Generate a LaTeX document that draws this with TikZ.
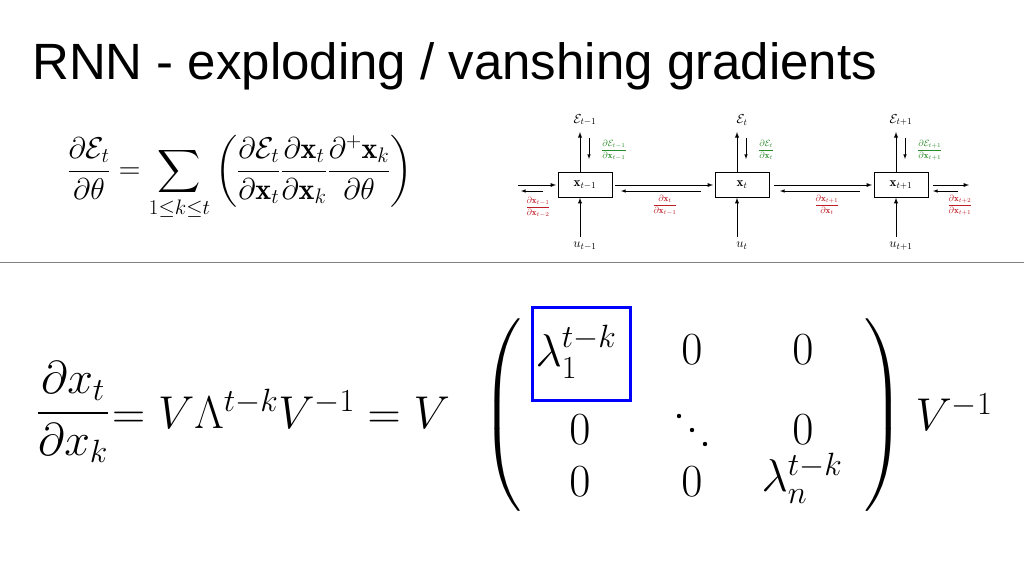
\RequirePackage{fix-cm}
\documentclass[tikz,border=0pt]{standalone}
\usepackage{amsmath,amssymb}
\usepackage{fontspec}
\newfontfamily\titlefont{Liberation Sans}
\definecolor{gr}{RGB}{40,140,40}
\definecolor{rd}{RGB}{190,30,40}
\begin{document}
\begin{tikzpicture}[x=1pt,y=-1pt,
  cell/.style={draw,line width=0.6pt,minimum width=54pt,minimum height=25pt,inner sep=0pt,font=\fontsize{13}{15}\selectfont},
  arr/.style={-latex,line width=0.9pt},
  sm/.style={font=\fontsize{13}{15}\selectfont,inner sep=0pt},
  gl/.style={text=gr,font=\fontsize{9}{10}\selectfont,inner sep=0pt},
  rl/.style={text=rd,font=\fontsize{9}{10}\selectfont,inner sep=0pt},
  big/.style={font=\fontsize{46}{50}\selectfont,inner sep=0pt}]
\useasboundingbox (0,0) rectangle (1024,576);
\node[anchor=west,font=\titlefont\fontsize{51}{56}\selectfont,inner sep=0pt] (title) at (32,66) {RNN - exploding / vanshing gradients};
\node[font=\fontsize{30}{34}\selectfont,inner sep=0pt] (eq1) at (240,178) {$\dfrac{\partial\mathcal{E}_t}{\partial\theta}=\displaystyle\sum_{1\le k\le t}\left(\frac{\partial\mathcal{E}_t}{\partial\mathbf{x}_t}\frac{\partial\mathbf{x}_t}{\partial\mathbf{x}_k}\frac{\partial^+\mathbf{x}_k}{\partial\theta}\right)$};
\coordinate (la) at (0,262); \coordinate (lb) at (1024,262);
\draw[gray,line width=0.6pt] (la) -- (lb);
% diagram
\foreach \n/\x/\lab/\E/\u/\g in {a/585/{\mathbf{x}_{t-1}}/{t-1}/{u_{t-1}}/{\dfrac{\partial\mathcal{E}_{t-1}}{\partial\mathbf{x}_{t-1}}},b/742/{\mathbf{x}_t}/{t}/{u_t}/{\dfrac{\partial\mathcal{E}_{t}}{\partial\mathbf{x}_{t}}},c/901/{\mathbf{x}_{t+1}}/{t+1}/{u_{t+1}}/{\dfrac{\partial\mathcal{E}_{t+1}}{\partial\mathbf{x}_{t+1}}}}{
  \node[cell] (\n) at (\x,185) {$\lab$};
  \node[sm] (E\n) at (\x,120) {$\mathcal{E}_{\E}$};
  \node[sm] (u\n) at (\x,246) {$\u$};
  \coordinate (up\n) at ([xshift=-5pt]\x,132);
  \draw[arr] ([xshift=-5pt]\n.north) -- (up\n);
  \coordinate (d1\n) at ([xshift=4pt]\x,138);
  \coordinate (d2\n) at ([xshift=4pt]\x,159);
  \draw[-latex,line width=0.6pt] (d1\n) -- (d2\n);
  \node[gl,anchor=west] (g\n) at ([xshift=16pt]\x,150) {$\g$};
  \coordinate (ub\n) at ([xshift=-5pt]\x,237);
  \draw[arr] (ub\n) -- ([xshift=-5pt]\n.south);
}
\coordinate (h1) at (615,185); \coordinate (h2) at (713,185);
\coordinate (h3) at (701,191); \coordinate (h4) at (621,191);
\coordinate (h5) at (774,185); \coordinate (h6) at (872,185);
\coordinate (h7) at (860,191); \coordinate (h8) at (780,191);
\draw[arr] (h1) -- (h2);
\draw[-latex,line width=0.6pt] (h3) -- (h4);
\draw[arr] (h5) -- (h6);
\draw[-latex,line width=0.6pt] (h7) -- (h8);
\coordinate (l1) at (518,185); \coordinate (l0) at (556,185); \coordinate (l2) at (543,191); \coordinate (l3) at (521,191);
\draw[arr] (l1) -- (l0);
\draw[-latex,line width=0.6pt] (l2) -- (l3);
\coordinate (r0) at (933,185); \coordinate (r1) at (969,185); \coordinate (r2) at (958,191); \coordinate (r3) at (933,191);
\draw[arr] (r0) -- (r1);
\draw[-latex,line width=0.6pt] (r2) -- (r3);
\node[rl] (ra) at (538,207) {$\dfrac{\partial\mathbf{x}_{t-1}}{\partial\mathbf{x}_{t-2}}$};
\node[rl] (rb) at (665,205) {$\dfrac{\partial\mathbf{x}_{t}}{\partial\mathbf{x}_{t-1}}$};
\node[rl] (rc) at (827,205) {$\dfrac{\partial\mathbf{x}_{t+1}}{\partial\mathbf{x}_{t}}$};
\node[rl] (rd) at (960,205) {$\dfrac{\partial\mathbf{x}_{t+2}}{\partial\mathbf{x}_{t+1}}$};
% bottom equation
\node[big] (fr) at (73,412) {$\dfrac{\partial x_t}{\partial x_k}$};
\node[big,anchor=base west] (mid) at (112,428) {$=V\Lambda^{t-k}V^{-1}=V$};
\node[big] (lp) at (502,415) {$\left(\rule[-85pt]{0pt}{170pt}\right.$};
\node[big] (rp) at (884,415) {$\left.\rule[-85pt]{0pt}{170pt}\right)$};
\node[big] (m11) at (576,352) {$\lambda_1^{t-k}$};
\node[big] (m12) at (692,350) {$0$};
\node[big] (m13) at (803,350) {$0$};
\node[big] (m21) at (580,430) {$0$};
\coordinate (m22) at (692,430);
\fill ([shift={(-13,-14)}]m22) circle (2.2) (m22) circle (2.2) ([shift={(13,14)}]m22) circle (2.2);
\node[big] (m23) at (803,430) {$0$};
\node[big] (m31) at (580,482) {$0$};
\node[big] (m32) at (692,482) {$0$};
\node[big] (m33) at (802,478) {$\lambda_n^{t-k}$};
\node[big] (vi) at (954,412) {$V^{-1}$};
\coordinate (bx1) at (532,307); \coordinate (bx2) at (630,400);
\draw[blue,line width=3pt] (bx1) rectangle (bx2);
\end{tikzpicture}
\end{document}
